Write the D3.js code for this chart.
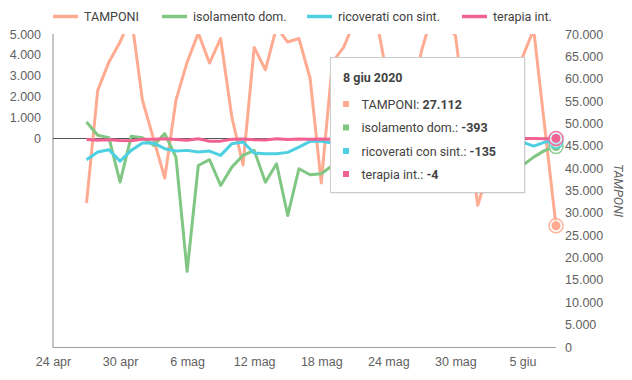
<!DOCTYPE html>
<html><head><meta charset="utf-8">
<script src="https://cdnjs.cloudflare.com/ajax/libs/d3/7.8.5/d3.min.js"></script>
<style>
html,body{margin:0;padding:0;background:#fff;}
svg{display:block;font-family:Roboto,"Noto Sans",sans-serif;}
</style></head>
<body><svg id="c" width="632" height="380"></svg>
<script>
// ---- data ----
const startDate = "2020-04-27";
const seriesNames = ["TAMPONI", "isolamento dom.", "ricoverati con sint.", "terapia int."];
const seriesColors = ["#FFAB91", "#81C784", "#4DD0E1", "#F06292"];
const tamponi = [32200,57400,63700,68200,74000,55200,46500,37800,55200,63700,70200,63500,69000,51400,40700,67000,62000,71500,68200,69000,60100,36700,63700,67000,73000,72000,72500,59000,36000,55000,66500,75000,72000,69700,50500,31700,40000,48300,56600,64800,71000,49000,27112];
const isolamento = [785,144,34,-2100,96,34,-336,226,-900,-6380,-1300,-1024,-2260,-1380,-817,-577,-2100,-1216,-3700,-1457,-1745,-1700,-1300,-1100,-1900,-800,-1500,-600,-1200,-2000,-900,-1400,-700,-1100,-500,-300,-1300,-900,-1600,-1300,-900,-577,-393];
const ricoverati = [-1024,-658,-543,-1090,-577,-226,-226,-495,-610,-577,-658,-610,-817,-255,-178,-706,-735,-735,-673,-418,-144,-144,-226,-200,-300,-250,-350,-180,-150,-400,-300,-280,-200,-150,-250,-120,-180,-300,-200,-178,-370,-178,-135];
const terapia = [-53,-93,-68,-101,-116,-39,-38,-22,-52,-94,-22,-143,-134,-44,-34,-66,-82,-20,-55,-33,-39,-33,-46,-21,-67,-44,-37,-33,-19,-34,-16,-20,-17,-8,-19,-16,-27,-14,-16,-4,-12,-21,-4];
const leftTicks = [0,1000,2000,3000,4000,5000];
const rightTicks = [0,5000,10000,15000,20000,25000,30000,35000,40000,45000,50000,55000,60000,65000,70000];
const xTickDates = ["2020-04-24","2020-04-30","2020-05-06","2020-05-12","2020-05-18","2020-05-24","2020-05-30","2020-06-05"];
const monthsIt = ["gen","feb","mar","apr","mag","giu","lug","ago","set","ott","nov","dic"];
const tooltipTitle = "8 giu 2020";

// ---- build ----
const parse = d3.timeParse("%Y-%m-%d");
const d0 = parse(startDate);
const dates = tamponi.map((_, i) => d3.timeDay.offset(d0, i));
const allSeries = [tamponi, isolamento, ricoverati, terapia];
const axisSide = ["right", "left", "left", "left"];

const svg = d3.select("#c");
const L = 53, R = 556, T = 34, B = 347;
const x = d3.scaleTime().domain([parse("2020-04-24"), parse("2020-06-08")]).range([L, R]);
const yL = d3.scaleLinear().domain([-10000, 5000]).range([B, T]);
const yR = d3.scaleLinear().domain([0, 70000]).range([B, T]);
const fmt = d3.formatLocale({decimal: ",", thousands: ".", grouping: [3], currency: ["€", ""], minus: "-"}).format(",d");

svg.append("defs").append("clipPath").attr("id", "clip")
  .append("rect").attr("x", L).attr("y", T).attr("width", R - L + 10).attr("height", B - T);

// axes
const gL = svg.append("g").attr("transform", `translate(${L},0)`)
  .call(d3.axisLeft(yL).tickValues(leftTicks).tickFormat(fmt).tickSize(0).tickPadding(12));
gL.select(".domain").remove();
gL.selectAll("text").attr("fill", "#616161").style("font-size", "12.5px").attr("font-family", null);

const gR = svg.append("g").attr("transform", `translate(${R},0)`)
  .call(d3.axisRight(yR).tickValues(rightTicks).tickFormat(fmt).tickSize(0).tickPadding(9));
gR.select(".domain").remove();
gR.selectAll("text").attr("fill", "#616161").style("font-size", "12.5px").attr("font-family", null);

const gX = svg.append("g").attr("transform", `translate(0,${B})`)
  .call(d3.axisBottom(x).tickValues(xTickDates.map(parse))
    .tickFormat(d => d.getDate() + " " + monthsIt[d.getMonth()]).tickSize(0).tickPadding(10));
gX.select(".domain").remove();
gX.selectAll("text").attr("fill", "#616161").style("font-size", "12.5px").attr("font-family", null);

// axis lines
svg.append("line").attr("x1", L).attr("x2", L).attr("y1", T).attr("y2", B + 0.5).attr("stroke", "#9e9e9e").attr("stroke-width", 1.2);
svg.append("line").attr("x1", L).attr("x2", R).attr("y1", B + 0.5).attr("y2", B + 0.5).attr("stroke", "#9e9e9e").attr("stroke-width", 1.2);
svg.append("line").attr("x1", L).attr("x2", R).attr("y1", Math.round(yL(0)) + 0.5).attr("y2", Math.round(yL(0)) + 0.5).attr("stroke", "#555").attr("stroke-width", 1);

// right axis title
svg.append("text").attr("transform", `translate(614,${(T + B) / 2}) rotate(90)`)
  .attr("text-anchor", "middle").attr("fill", "#616161").style("font-size", "12.5px").style("font-style", "italic")
  .text(seriesNames[0]);

// lines
const gLines = svg.append("g").attr("clip-path", "url(#clip)");
allSeries.forEach((vals, si) => {
  const ys = axisSide[si] === "right" ? yR : yL;
  const line = d3.line().x((d, i) => x(dates[i])).y(d => ys(d));
  gLines.append("path").datum(vals).attr("d", line).attr("fill", "none")
    .attr("stroke", seriesColors[si]).attr("stroke-width", 3).attr("stroke-linejoin", "round");
});

// focused points
const li = tamponi.length - 1;
allSeries.forEach((vals, si) => {
  const ys = axisSide[si] === "right" ? yR : yL;
  const cx = x(dates[li]), cy = ys(vals[li]);
  svg.append("circle").attr("cx", cx).attr("cy", cy).attr("r", 7).attr("fill", "#fff").attr("fill-opacity", 0.6)
    .attr("stroke", seriesColors[si]).attr("stroke-width", 1.5).attr("stroke-opacity", 0.9);
  svg.append("circle").attr("cx", cx).attr("cy", cy).attr("r", 4.5).attr("fill", seriesColors[si]);
});

// legend
const legendX = [53, 162, 307, 462];
seriesNames.forEach((n, i) => {
  svg.append("line").attr("x1", legendX[i]).attr("x2", legendX[i] + 25).attr("y1", 16.5).attr("y2", 16.5)
    .attr("stroke", seriesColors[i]).attr("stroke-width", 3.5);
  svg.append("text").attr("x", legendX[i] + 31).attr("y", 21).attr("fill", "#424242").style("font-size", "12.5px").text(n);
});

// tooltip
const tt = svg.append("g");
tt.append("rect").attr("x", 331.5).attr("y", 58.5).attr("width", 194).attr("height", 135).attr("fill", "#000").attr("opacity", 0.12);
tt.append("rect").attr("x", 330.5).attr("y", 57.5).attr("width", 194).attr("height", 135).attr("fill", "#fff").attr("stroke", "#cccccc");
tt.append("text").attr("x", 343).attr("y", 81.5).attr("fill", "#424242").style("font-size", "12.5px").style("font-weight", "bold").text(tooltipTitle);
const rowY = [104, 127.5, 151, 174];
allSeries.forEach((vals, si) => {
  tt.append("rect").attr("x", 343).attr("y", rowY[si] - 3).attr("width", 6).attr("height", 6).attr("fill", seriesColors[si]);
  const t = tt.append("text").attr("x", 361.5).attr("y", rowY[si] + 4.5).attr("fill", "#424242").style("font-size", "12.5px");
  t.append("tspan").text(seriesNames[si] + ": ");
  t.append("tspan").style("font-weight", "bold").text(fmt(vals[li]));
});
</script></body></html>
